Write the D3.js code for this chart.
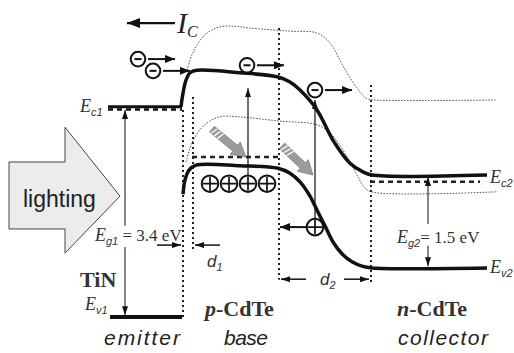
<!DOCTYPE html>
<html><head><meta charset="utf-8">
<script src="https://cdn.jsdelivr.net/npm/d3@7"></script>
<style>html,body{margin:0;padding:0;background:#fff;}svg{display:block;}</style>
</head><body>
<svg id="chart" width="514" height="353"></svg>
<script>
// ---------------- data (position in a.u., energy in eV) ----------------
const ecBand = [[181,3.39],[183,3.61],[186,3.82],[190,3.94],[197,3.98],[240,3.94],[278,3.87],[290,3.79],[300,3.66],[317,3.34],[333,2.85],[350,2.48],[363,2.34],[372,2.29],[487,2.29]];
const evBand = [[183,1.98],[185,2.21],[189,2.37],[196,2.45],[240,2.44],[278,2.40],[290,2.32],[300,2.18],[310,1.95],[318,1.69],[325,1.47],[333,1.21],[342,1.02],[352,0.89],[362,0.82],[372,0.79],[487,0.79]];
const ecBandLit = [[187,3.98],[192,4.23],[197,4.39],[207,4.58],[220,4.68],[235,4.69],[250,4.66],[290,4.61],[317,4.58],[330,4.42],[343,4.05],[357,3.69],[367,3.52],[375,3.50],[497,3.50]];
const evBandLit = [[186,2.50],[192,2.81],[199,3.00],[207,3.13],[220,3.23],[237,3.23],[280,3.16],[317,3.10],[330,2.97],[340,2.77],[350,2.50],[358,2.26],[364,2.10],[371,2.02],[498,2.02]];
const emitterEc = [[108,3.39],[182,3.39]];
const emitterEv = [[110,0],[182,0]];
const fermiBase = [[192,2.58],[280,2.58]];
const fermiCollector = [[370,2.18],[480,2.18]];
const boundaries = [{pos:183,from:0,to:3.34},{pos:193,from:1.08,to:3.55},{pos:279,from:0.60,to:4.66},{pos:371,from:0.55,to:3.74}];
const electrons = [{pos:138,E:4.16},{pos:153,E:3.97},{pos:247,E:4.06},{pos:315,E:3.66}];
const holes = [{pos:210,E:2.15},{pos:229,E:2.15},{pos:248,E:2.15},{pos:267,E:2.15},{pos:315,E:1.45}];
const excitations = [{pos:248,from:2.27,to:3.69},{pos:315,from:1.58,to:3.50}];
const photons = [{from:[212,3.03],to:[246,2.58]},{from:[282,2.76],to:[313,2.29]}];
const gapLabels = [{pos:125,top:3.34,bottom:0.03,gapTop:1.47,gapBottom:1.13,name:"g1",value:"3.4 eV"},
                   {pos:428,top:2.26,bottom:0.82,gapTop:1.50,gapBottom:1.15,name:"g2",value:"1.5 eV"}];
const lightingArrow = [[9,2.50],[65,2.50],[65,3.06],[120,1.95],[65,1.03],[65,1.42],[9,1.42]];

// ---------------- scales ----------------
const svg = d3.select('#chart');
const xS = d3.scaleLinear().domain([0,514]).range([0,514]);
const yS = d3.scaleLinear().domain([0,5]).range([317,7]);
const SERIF = "'Liberation Serif','Times New Roman',serif";
const SANS = "'Liberation Sans',Arial,sans-serif";

const defs = svg.append('defs');
function marker(id,len,wid){
  defs.append('marker').attr('id',id).attr('markerUnits','userSpaceOnUse')
    .attr('markerWidth',len).attr('markerHeight',wid).attr('refX',len).attr('refY',wid/2)
    .attr('orient','auto-start-reverse').attr('viewBox',`0 0 ${len} ${wid}`)
    .append('path').attr('d',`M0,0 L${len},${wid/2} L0,${wid} Z`).attr('fill','#111');
}
marker('big',13,10); marker('mid',10,8); marker('small',9,6);

const line = d3.line().x(d=>xS(d[0])).y(d=>yS(d[1])).curve(d3.curveCatmullRom.alpha(0.5));
const straight = d3.line().x(d=>xS(d[0])).y(d=>yS(d[1]));

// lighting arrow
svg.append('path').attr('d',straight(lightingArrow)+'Z').attr('fill','#ececec').attr('stroke','#444').attr('stroke-width',1);
svg.append('text').attr('x',23).attr('y',207).attr('font-family',SANS).attr('font-size',23).attr('fill','#222').text('lighting');

// boundaries (dotted)
svg.selectAll('.bd').data(boundaries).enter().append('line')
  .attr('x1',d=>xS(d.pos)).attr('x2',d=>xS(d.pos)).attr('y1',d=>yS(d.to)).attr('y2',d=>yS(d.from))
  .attr('stroke','#222').attr('stroke-width',2).attr('stroke-dasharray','2,3');

// thin dotted bands under lighting
[ecBandLit, evBandLit].forEach(b=>svg.append('path').attr('d',line(b)).attr('fill','none')
  .attr('stroke','#555').attr('stroke-width',1).attr('stroke-dasharray','1.6,1.4'));

// fermi dashed
[fermiBase, fermiCollector].forEach(b=>svg.append('path').attr('d',straight(b)).attr('fill','none')
  .attr('stroke','#222').attr('stroke-width',2.5).attr('stroke-dasharray','5,4'));

// emitter levels
svg.append('path').attr('d',straight(emitterEc)).attr('stroke','#111').attr('stroke-width',3);
svg.append('path').attr('d',straight(emitterEc.map(d=>[d[0],d[1]-0.045]))).attr('stroke','#111').attr('stroke-width',2.5).attr('stroke-dasharray','5,4');
svg.append('path').attr('d',straight(emitterEv)).attr('stroke','#111').attr('stroke-width',4);

// main bands
[ecBand, evBand].forEach(b=>svg.append('path').attr('d',line(b)).attr('fill','none')
  .attr('stroke','#111').attr('stroke-width',3.5));

// photons
photons.forEach(p=>{
  const x1=xS(p.from[0]), y1=yS(p.from[1]), x2=xS(p.to[0]), y2=yS(p.to[1]);
  const ang=Math.atan2(y2-y1,x2-x1)*180/Math.PI, L=Math.hypot(x2-x1,y2-y1);
  const g=svg.append('g').attr('transform',`translate(${x1},${y1}) rotate(${ang})`);
  const hl=14,hw=8,sw=3.8;
  g.append('path').attr('d',`M0,${-sw} L${L-hl},${-sw} L${L-hl},${-hw} L${L},0 L${L-hl},${hw} L${L-hl},${sw} L0,${sw} Z`)
    .attr('fill','#9b9b9b').attr('stroke','#707070').attr('stroke-width',0.6);
  [3,7,11].forEach(t=>g.append('line').attr('x1',t+1).attr('x2',t-1).attr('y1',-sw).attr('y2',sw).attr('stroke','#fff').attr('stroke-width',1.3));
});

// excitation arrows
svg.selectAll('.ex').data(excitations).enter().append('line')
  .attr('x1',d=>xS(d.pos)).attr('x2',d=>xS(d.pos)).attr('y1',d=>yS(d.from)).attr('y2',d=>yS(d.to))
  .attr('stroke','#111').attr('stroke-width',1.2).attr('marker-end','url(#small)');

// holes
const hg = svg.selectAll('.h').data(holes).enter().append('g').attr('transform',d=>`translate(${xS(d.pos)},${yS(d.E)})`);
hg.append('circle').attr('r',8.3).attr('fill','#fff').attr('stroke','#111').attr('stroke-width',2);
hg.append('path').attr('d','M-7,0H7M0,-7V7').attr('stroke','#111').attr('stroke-width',1.7);

// electrons
const eg = svg.selectAll('.e').data(electrons).enter().append('g').attr('transform',d=>`translate(${xS(d.pos)},${yS(d.E)})`);
eg.append('circle').attr('r',7.3).attr('fill','#fff').attr('stroke','#111').attr('stroke-width',2);
eg.append('path').attr('d','M-3.5,0H3.5').attr('stroke','#111').attr('stroke-width',2);
// electron drift arrows
svg.selectAll('.ea').data(electrons).enter().append('line')
  .attr('x1',d=>xS(d.pos)+10).attr('x2',d=>xS(d.pos)+37).attr('y1',d=>yS(d.E)).attr('y2',d=>yS(d.E))
  .attr('stroke','#111').attr('stroke-width',2).attr('marker-end','url(#mid)');
// hole drift arrow
const h2 = holes[4];
svg.append('line').attr('x1',xS(h2.pos)-9).attr('x2',xS(280)).attr('y1',yS(h2.E)).attr('y2',yS(h2.E))
  .attr('stroke','#111').attr('stroke-width',2).attr('marker-end','url(#mid)');

// I_C arrow
const icE = 4.74;
svg.append('line').attr('x1',xS(175)).attr('x2',xS(127)).attr('y1',yS(icE)).attr('y2',yS(icE))
  .attr('stroke','#111').attr('stroke-width',2.2).attr('marker-end','url(#big)');
const ict = svg.append('text').attr('x',177).attr('y',33).attr('font-family',SERIF).attr('font-style','italic').attr('fill','#222');
ict.append('tspan').attr('font-size',30).text('I');
ict.append('tspan').attr('font-size',16).attr('dy',4).text('C');

// band-gap arrows
gapLabels.forEach(g=>{
  svg.append('line').attr('x1',xS(g.pos)).attr('x2',xS(g.pos)).attr('y1',yS(g.gapTop)).attr('y2',yS(g.top))
    .attr('stroke','#222').attr('stroke-width',1.1).attr('marker-end','url(#small)');
  svg.append('line').attr('x1',xS(g.pos)).attr('x2',xS(g.pos)).attr('y1',yS(g.gapBottom)).attr('y2',yS(g.bottom))
    .attr('stroke','#222').attr('stroke-width',1.1).attr('marker-end','url(#small)');
});

// energy labels
function eLabel(x,y,sub,tail){
  const t=svg.append('text').attr('x',x).attr('y',y).attr('fill','#333');
  t.append('tspan').attr('font-family',SERIF).attr('font-style','italic').attr('font-size',18).text('E');
  t.append('tspan').attr('font-family',SANS).attr('font-style','italic').attr('font-size',11).attr('dy',4).text(sub);
  if(tail) t.append('tspan').attr('font-family',SERIF).attr('font-size',17).attr('dy',-4).text(tail);
  return t;
}
eLabel(80,112,'c1');
eLabel(85,310,'v1');
eLabel(490,183,'c2');
eLabel(490,273,'v2');
eLabel(95,241,'g1',' = 3.4 eV');
eLabel(397,243,'g2','= 1.5 eV');

// d1, d2
const dE1 = 1.16, dE2 = 0.61;
svg.append('line').attr('x1',xS(157)).attr('x2',xS(181)).attr('y1',yS(dE1)).attr('y2',yS(dE1)).attr('stroke','#111').attr('stroke-width',1.5).attr('marker-end','url(#small)');
svg.append('line').attr('x1',xS(220)).attr('x2',xS(195)).attr('y1',yS(dE1)).attr('y2',yS(dE1)).attr('stroke','#111').attr('stroke-width',1.5).attr('marker-end','url(#small)');
svg.append('line').attr('x1',xS(306)).attr('x2',xS(281)).attr('y1',yS(dE2)).attr('y2',yS(dE2)).attr('stroke','#111').attr('stroke-width',1.5).attr('marker-end','url(#small)');
svg.append('line').attr('x1',xS(344)).attr('x2',xS(369)).attr('y1',yS(dE2)).attr('y2',yS(dE2)).attr('stroke','#111').attr('stroke-width',1.5).attr('marker-end','url(#small)');
function dLabel(x,y,sub){
  const t=svg.append('text').attr('x',x).attr('y',y).attr('fill','#333').attr('font-family',SANS).attr('font-style','italic');
  t.append('tspan').attr('font-size',17).text('d');
  t.append('tspan').attr('font-size',11).attr('dy',4).text(sub);
}
dLabel(207,267,'1');
dLabel(320,285,'2');

// material labels
svg.append('text').attr('x',80).attr('y',287).attr('font-family',SERIF).attr('font-weight','bold').attr('font-size',22).attr('fill','#333').text('TiN');
function mat(x,y,letter){
  const t=svg.append('text').attr('x',x).attr('y',y).attr('font-family',SERIF).attr('font-weight','bold').attr('font-size',22).attr('fill','#333');
  t.append('tspan').attr('font-style','italic').text(letter);
  t.append('tspan').text('-CdTe');
}
mat(205,316,'p');
mat(397,316,'n');
const roles = [{x:104,text:'emitter',w:76},{x:224,text:'base',w:44},{x:398,text:'collector',w:90}];
roles.forEach(r=>svg.append('text').attr('x',r.x).attr('y',345).attr('font-family',SANS).attr('font-style','italic')
  .attr('font-size',21).attr('fill','#222').attr('textLength',r.w).attr('lengthAdjust','spacing').text(r.text));
</script>
</body></html>
